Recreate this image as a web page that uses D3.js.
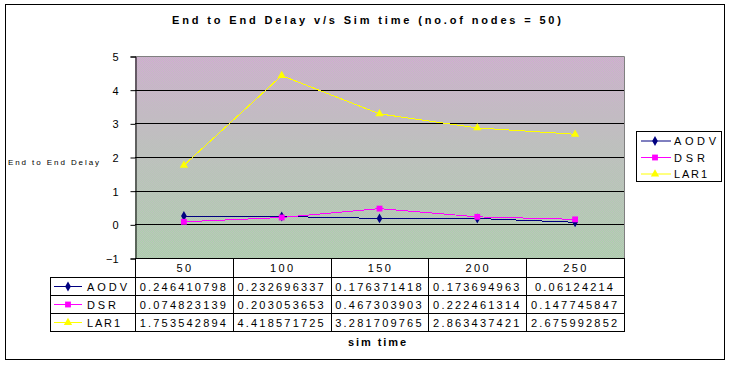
<!DOCTYPE html>
<html>
<head>
<meta charset="utf-8">
<script src="https://cdn.jsdelivr.net/npm/d3@7"></script>
<style>
  body { margin: 0; background: #fff; }
  text { font-family: Arial, "Liberation Sans", sans-serif; fill: #000; }
</style>
</head>
<body>
<script>
/* Chart data */
var categories = ["50", "100", "150", "200", "250"];
var seriesNames = ["AODV", "DSR", "LAR1"];
var aodv = [0.246410798, 0.232696337, 0.176371418, 0.173694963, 0.06124214];
var dsr = [0.074823139, 0.203053653, 0.467303903, 0.222461314, 0.147745847];
var lar1 = [1.753542894, 4.418571725, 3.281709765, 2.863437421, 2.675992852];
var yTicks = [-1, 0, 1, 2, 3, 4, 5];

var series = [
  {name: seriesNames[0], values: aodv, colour: "#000080", symbol: d3.symbolDiamond, size: 28},
  {name: seriesNames[1], values: dsr, colour: "#ff00ff", symbol: d3.symbolSquare, size: 34},
  {name: seriesNames[2], values: lar1, colour: "#ffff00", symbol: d3.symbolTriangle, size: 30}
];

/* Layout */
var width = 732, height = 365;
var plotLeft = 135, plotRight = 624, plotTop = 56, plotBottom = 258;
var tableLeft = 50;
var headerH = 19, rowH = 18;

var svg = d3.select("body").append("svg")
            .attr("width", width)
            .attr("height", height);

/* Background gradient + dither pattern for the plot area */
var defs = svg.append("defs");
var grad = defs.append("linearGradient")
               .attr("id", "bg")
               .attr("x1", 0).attr("y1", 0).attr("x2", 0).attr("y2", 1);
grad.append("stop").attr("offset", "0%").attr("stop-color", "#d4a8d4");
grad.append("stop").attr("offset", "45%").attr("stop-color", "#bcc0bc");
grad.append("stop").attr("offset", "100%").attr("stop-color", "#a8d4a8");

var pat = defs.append("pattern")
              .attr("id", "dither")
              .attr("width", 2).attr("height", 2)
              .attr("patternUnits", "userSpaceOnUse");
pat.append("rect").attr("x", 0).attr("y", 0).attr("width", 1).attr("height", 1).attr("fill", "#c0c0c0");
pat.append("rect").attr("x", 1).attr("y", 1).attr("width", 1).attr("height", 1).attr("fill", "#c0c0c0");

/* Outer border */
svg.append("rect")
   .attr("x", 5.5).attr("y", 4.5)
   .attr("width", 719).attr("height", 355)
   .attr("fill", "#fff")
   .attr("stroke", "#000");

/* Scales */
var x = d3.scaleBand()
          .domain(categories)
          .range([plotLeft, plotRight]);

var y = d3.scaleLinear()
          .domain([-1, 5])
          .range([plotBottom, plotTop]);

/* Plot area */
svg.append("rect")
   .attr("x", plotLeft).attr("y", plotTop)
   .attr("width", plotRight - plotLeft).attr("height", plotBottom - plotTop)
   .attr("fill", "url(#bg)");
svg.append("rect")
   .attr("x", plotLeft).attr("y", plotTop)
   .attr("width", plotRight - plotLeft).attr("height", plotBottom - plotTop)
   .attr("fill", "url(#dither)")
   .attr("opacity", 0.8);

// gray frame at top and right
svg.append("path")
   .attr("d", "M" + plotLeft + "," + (plotTop + 0.5) + "H" + (plotRight + 0.5) + "V" + plotBottom)
   .attr("fill", "none")
   .attr("stroke", "#808080");

/* Gridlines */
svg.append("g")
   .selectAll("line")
   .data(yTicks.filter(function(d) { return d > -1 && d < 5; }))
   .enter()
   .append("line")
   .attr("x1", plotLeft).attr("x2", plotRight)
   .attr("y1", function(d) { return Math.round(y(d)) + 0.5; })
   .attr("y2", function(d) { return Math.round(y(d)) + 0.5; })
   .attr("stroke", "#000");

/* Y axis */
var yAxis = d3.axisLeft(y)
              .tickValues(yTicks)
              .tickSize(5)
              .tickFormat(d3.format("d"));
var yg = svg.append("g")
            .attr("transform", "translate(" + (plotLeft + 0.5) + ",0.5)")
            .call(yAxis);
yg.select(".domain").attr("stroke", "#000");
yg.selectAll(".tick line").attr("stroke", "#000");
yg.selectAll(".tick text")
  .attr("x", -17)
  .attr("dy", "0.36em")
  .style("font-size", "11px")
  .style("font-family", "Arial, 'Liberation Sans', sans-serif")
  .attr("fill", "#000");

/* Lines and markers */
var line = d3.line()
             .x(function(d, i) { return x(categories[i]) + x.bandwidth() / 2; })
             .y(function(d) { return y(d); });

series.forEach(function(s) {
  svg.append("path")
     .datum(s.values)
     .attr("d", line)
     .attr("fill", "none")
     .attr("stroke", s.colour)
     .attr("stroke-width", 1)
     .attr("shape-rendering", "crispEdges");

  svg.append("g")
     .selectAll("path")
     .data(s.values)
     .enter()
     .append("path")
     .attr("d", d3.symbol().type(s.symbol).size(s.size))
     .attr("transform", function(d, i) {
       return "translate(" + (x(categories[i]) + x.bandwidth() / 2) + "," + y(d) + ")";
     })
     .attr("fill", s.colour);
});

/* Data table */
var tableBottom = plotBottom + headerH + rowH * series.length;
var tg = svg.append("g")
            .attr("stroke", "#000")
            .attr("fill", "none")
            .attr("shape-rendering", "crispEdges");

// header row lines
tg.append("line")
  .attr("x1", plotLeft).attr("x2", plotRight)
  .attr("y1", plotBottom + 0.5).attr("y2", plotBottom + 0.5);
// row lines
d3.range(series.length + 1).forEach(function(r) {
  var yy = plotBottom + headerH + r * rowH + 0.5;
  tg.append("line")
    .attr("x1", tableLeft).attr("x2", plotRight)
    .attr("y1", yy).attr("y2", yy);
});
// column lines
var colEdges = categories.map(function(c) { return x(c); }).concat([plotRight]);
colEdges.forEach(function(cx) {
  tg.append("line")
    .attr("x1", Math.round(cx) + 0.5).attr("x2", Math.round(cx) + 0.5)
    .attr("y1", plotBottom).attr("y2", tableBottom + 0.5);
});
tg.append("line")
  .attr("x1", tableLeft + 0.5).attr("x2", tableLeft + 0.5)
  .attr("y1", plotBottom + headerH).attr("y2", tableBottom + 0.5);

// header labels
svg.append("g")
   .selectAll("text")
   .data(categories)
   .enter()
   .append("text")
   .attr("x", function(d) { return x(d) + x.bandwidth() / 2 + 1; })
   .attr("y", plotBottom + headerH / 2 + 4)
   .attr("text-anchor", "middle")
   .style("font-size", "11px")
   .style("letter-spacing", "2.4px")
   .text(function(d) { return d; });

var rowLabelLengths = [40, 29, 33];
var legendLabelLengths = [42, 31, 33];

series.forEach(function(s, r) {
  var cy = plotBottom + headerH + r * rowH + rowH / 2 + 0.5;

  // key
  svg.append("line")
     .attr("x1", 54).attr("x2", 82)
     .attr("y1", cy).attr("y2", cy)
     .attr("stroke", s.colour);
  svg.append("path")
     .attr("d", d3.symbol().type(s.symbol).size(s.size))
     .attr("transform", "translate(68," + cy + ")")
     .attr("fill", s.colour);
  svg.append("text")
     .attr("x", 87).attr("y", cy + 4)
     .attr("textLength", rowLabelLengths[r])
     .attr("lengthAdjust", "spacing")
     .style("font-size", "11px")
     .text(s.name);

  // values
  svg.append("g")
     .selectAll("text")
     .data(s.values)
     .enter()
     .append("text")
     .attr("x", function(d, i) { return x(categories[i]) + x.bandwidth() / 2; })
     .attr("y", cy + 4)
     .attr("text-anchor", "middle")
     .style("font-size", "11px")
     .style("letter-spacing", "2.2px")
     .text(function(d) { return String(d); });
});

/* Legend */
var legend = svg.append("g");
legend.append("rect")
      .attr("x", 636.5).attr("y", 131.5)
      .attr("width", 85).attr("height", 50)
      .attr("fill", "#fff")
      .attr("stroke", "#000");
series.forEach(function(s, r) {
  var ly = 141 + r * 16.5;
  legend.append("line")
        .attr("x1", 641).attr("x2", 671)
        .attr("y1", ly).attr("y2", ly)
        .attr("stroke", s.colour);
  legend.append("path")
        .attr("d", d3.symbol().type(s.symbol).size(s.size))
        .attr("transform", "translate(655," + ly + ")")
        .attr("fill", s.colour);
  legend.append("text")
        .attr("x", 674).attr("y", ly + 4)
        .attr("textLength", legendLabelLengths[r])
        .attr("lengthAdjust", "spacing")
        .style("font-size", "11px")
        .text(s.name);
});

/* Titles */
svg.append("text")
   .attr("x", 172).attr("y", 24)
   .attr("textLength", 389)
   .attr("lengthAdjust", "spacing")
   .style("font-size", "11px")
   .style("font-weight", "bold")
   .text("End to End Delay v/s Sim time (no.of nodes = 50)");

svg.append("text")
   .attr("x", 8).attr("y", 165)
   .attr("textLength", 91)
   .attr("lengthAdjust", "spacing")
   .style("font-size", "8px")
   .text("End to End Delay");

svg.append("text")
   .attr("x", 348).attr("y", 346)
   .attr("textLength", 58)
   .attr("lengthAdjust", "spacing")
   .style("font-size", "11px")
   .style("font-weight", "bold")
   .text("sim time");
</script>
</body>
</html>
